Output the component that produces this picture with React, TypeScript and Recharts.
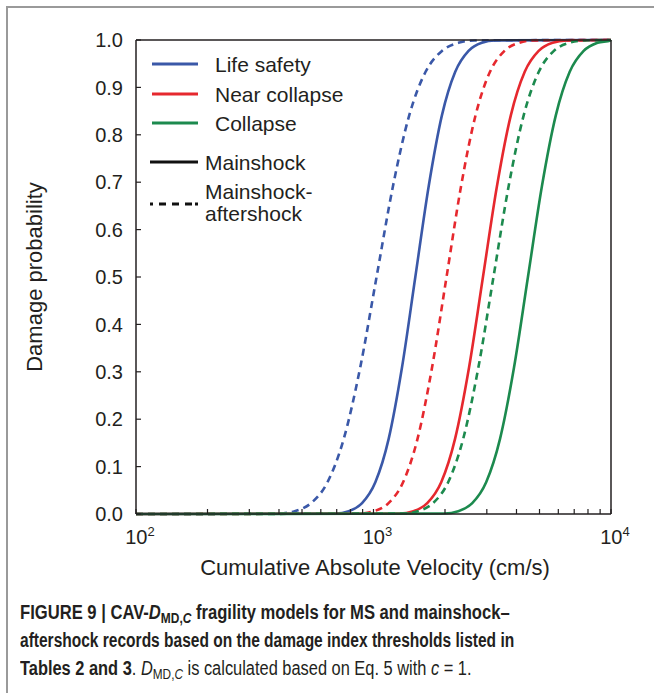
import React from 'react';
import { LineChart, Line, XAxis, YAxis } from 'recharts';

// Probability levels at which each fragility curve was read
const probLevels = [0, 0.001, 0.006, 0.023, 0.067, 0.159, 0.309, 0.5, 0.691, 0.841, 0.933, 0.977, 0.994, 0.999, 1];

// CAV (cm/s) reached by each curve at the probability levels above
const lsMainshockAftershock = [100, 398, 466, 546, 640, 750, 879, 1030, 1207, 1414, 1657, 1942, 2275, 2666, 10000];
const lsMainshock = [100, 692, 787, 895, 1018, 1159, 1318, 1500, 1707, 1941, 2209, 2513, 2859, 3253, 10000];
const ncMainshockAftershock = [100, 874, 1005, 1157, 1332, 1533, 1764, 2030, 2336, 2689, 3094, 3561, 4099, 4717, 10000];
const ncMainshock = [100, 1286, 1472, 1684, 1928, 2206, 2525, 2890, 3308, 3786, 4333, 4959, 5676, 6497, 10000];
const colMainshockAftershock = [100, 1329, 1538, 1781, 2062, 2387, 2764, 3200, 3705, 4289, 4966, 5750, 6657, 7707, 10000];
const colMainshock = [100, 1989, 2276, 2605, 2981, 3412, 3905, 4470, 5116, 5856, 6702, 7671, 8779, 9950, 10000];

const xTicks = [100, 200, 300, 400, 500, 600, 700, 800, 900, 1000, 2000, 3000, 4000, 5000, 6000, 7000, 8000, 9000, 10000];
const yTicks = [0, 0.1, 0.2, 0.3, 0.4, 0.5, 0.6, 0.7, 0.8, 0.9, 1.0];

const BLUE = '#3a58a8';
const RED = '#e6282e';
const GREEN = '#1c8a4e';
const INK = '#231f20';
const FONT = '"Liberation Sans", Arial, Helvetica, sans-serif';

const toPoints = (cav: number[]) => cav.map((c, i) => ({ cav: c, p: probLevels[i] }));

const series = [
  { key: 'ls-msas', data: toPoints(lsMainshockAftershock), color: BLUE, dashed: true },
  { key: 'ls-ms', data: toPoints(lsMainshock), color: BLUE, dashed: false },
  { key: 'nc-msas', data: toPoints(ncMainshockAftershock), color: RED, dashed: true },
  { key: 'nc-ms', data: toPoints(ncMainshock), color: RED, dashed: false },
  { key: 'c-msas', data: toPoints(colMainshockAftershock), color: GREEN, dashed: true },
  { key: 'c-ms', data: toPoints(colMainshock), color: GREEN, dashed: false },
];

const isDecade = (v: number) => v === 100 || v === 1000 || v === 10000;

const BottomTick = ({ x, y, payload }: any) => {
  const v = payload.value;
  return (
    <g>
      <line x1={x} x2={x} y1={y} y2={y - 5} stroke={INK} strokeWidth={1.2} />
      {isDecade(v) && (
        <text x={x + 4} y={y + 30} textAnchor="middle" fontSize={20} fill={INK} fontFamily={FONT}>
          10
          <tspan fontSize={13} dy={-8}>{Math.round(Math.log10(v))}</tspan>
        </text>
      )}
    </g>
  );
};

const TopTick = ({ x, y }: any) => (
  <line x1={x} x2={x} y1={y} y2={y + 5} stroke={INK} strokeWidth={1.2} />
);

const LeftTick = ({ x, y, payload }: any) => (
  <g>
    <line x1={x} x2={x + 5} y1={y} y2={y} stroke={INK} strokeWidth={1.2} />
    <text x={x - 13} y={y} dy="0.36em" textAnchor="end" fontSize={20} fill={INK} fontFamily={FONT}>
      {payload.value.toFixed(1)}
    </text>
  </g>
);

const RightTick = ({ x, y }: any) => (
  <line x1={x} x2={x - 5} y1={y} y2={y} stroke={INK} strokeWidth={1.2} />
);

const legendItems = [
  { label: 'Life safety', color: BLUE, y: 64 },
  { label: 'Near collapse', color: RED, y: 94 },
  { label: 'Collapse', color: GREEN, y: 123 },
];

function Legend() {
  return (
    <svg width={654} height={240} style={{ position: 'absolute', left: 0, top: 0, pointerEvents: 'none' }}>
      <g fontFamily={FONT} fontSize={21} fill={INK}>
        {legendItems.map((it) => (
          <g key={it.label}>
            <line x1={152} x2={198} y1={it.y} y2={it.y} stroke={it.color} strokeWidth={3} />
            <text x={215} y={it.y} dy="0.36em">{it.label}</text>
          </g>
        ))}
        <line x1={150} x2={198} y1={162} y2={162} stroke="#111" strokeWidth={3} />
        <text x={205} y={162} dy="0.36em">Mainshock</text>
        <line x1={150} x2={198} y1={204} y2={204} stroke="#111" strokeWidth={3} strokeDasharray="3 6 7 6 7 6 7" />
        <text x={205} y={191} dy="0.36em">Mainshock-</text>
        <text x={205} y={213} dy="0.36em">aftershock</text>
      </g>
    </svg>
  );
}

const sub: React.CSSProperties = { fontSize: '0.72em', verticalAlign: '-0.3em', lineHeight: 0 };
const captionLine = (scale: number): React.CSSProperties => ({
  transform: `scaleX(${scale})`,
  transformOrigin: 'left top',
  whiteSpace: 'nowrap',
});

export default function App() {
  return (
    <div style={{ position: 'fixed', left: 0, top: 0, width: 654, height: 693, background: '#fff', overflow: 'hidden' }}>
      {/* grey page frame, left and top edges */}
      <div style={{ position: 'absolute', left: 6, top: 6, width: 2, height: 687, background: '#9a9a9a' }} />
      <div style={{ position: 'absolute', left: 6, top: 6, width: 648, height: 2, background: '#9a9a9a' }} />
      <div style={{ position: 'absolute', left: 0, top: 0 }}>
        <LineChart width={654} height={560} margin={{ top: 39, right: 42, bottom: 45, left: 76 }}>
          <XAxis
            dataKey="cav"
            type="number"
            scale="log"
            domain={[100, 10000]}
            ticks={xTicks}
            interval={0}
            height={1}
            tickSize={0}
            tickMargin={0}
            tickLine={false}
            tick={<BottomTick />}
            axisLine={{ stroke: INK, strokeWidth: 1.5 }}
          />
          <XAxis
            xAxisId="top"
            orientation="top"
            type="number"
            scale="log"
            domain={[100, 10000]}
            ticks={xTicks}
            interval={0}
            height={1}
            tickSize={0}
            tickMargin={0}
            tickLine={false}
            tick={<TopTick />}
            axisLine={{ stroke: INK, strokeWidth: 1.5 }}
          />
          <YAxis
            type="number"
            domain={[0, 1]}
            ticks={yTicks}
            interval={0}
            width={60}
            tickSize={0}
            tickMargin={0}
            tickLine={false}
            tick={<LeftTick />}
            axisLine={{ stroke: INK, strokeWidth: 1.5 }}
          />
          <YAxis
            yAxisId="right"
            orientation="right"
            type="number"
            domain={[0, 1]}
            ticks={yTicks}
            interval={0}
            width={1}
            tickSize={0}
            tickMargin={0}
            tickLine={false}
            tick={<RightTick />}
            axisLine={{ stroke: INK, strokeWidth: 1.5 }}
          />
          {series.map((s) => (
            <Line
              key={s.key}
              data={s.data}
              dataKey="p"
              type="monotone"
              stroke={s.color}
              strokeWidth={2.6}
              strokeDasharray={s.dashed ? '7 5' : undefined}
              dot={false}
              activeDot={false}
              isAnimationActive={false}
            />
          ))}
        </LineChart>
      </div>
      <Legend />
      <div
        style={{
          position: 'absolute',
          left: 35,
          top: 277,
          transform: 'translate(-50%, -50%) rotate(-90deg)',
          lineHeight: '26px',
          fontFamily: FONT,
          fontSize: 22,
          color: INK,
          whiteSpace: 'nowrap',
        }}
      >
        Damage probability
      </div>
      <div
        style={{
          position: 'absolute',
          left: 0,
          width: 750,
          top: 568 - 13,
          lineHeight: '26px',
          textAlign: 'center',
          fontFamily: FONT,
          fontSize: 22,
          color: INK,
          whiteSpace: 'nowrap',
        }}
      >
        Cumulative Absolute Velocity (cm/s)
      </div>
      <div
        style={{
          position: 'absolute',
          left: 20,
          top: 598,
          fontFamily: FONT,
          fontSize: 20,
          lineHeight: '28px',
          color: INK,
        }}
      >
        <div style={{ ...captionLine(0.83), fontWeight: 700 }}>
          FIGURE 9 | CAV-<i>D</i>
          <span style={sub}>
            MD,<i>C</i>
          </span>{' '}
          fragility models for MS and mainshock–
        </div>
        <div style={{ ...captionLine(0.776), fontWeight: 700 }}>
          aftershock records based on the damage index thresholds listed in
        </div>
        <div style={captionLine(0.82)}>
          <b>Tables 2 and 3</b>. <i>D</i>
          <span style={sub}>
            MD,<i>C</i>
          </span>{' '}
          is calculated based on Eq. 5 with <i>c</i> = 1.
        </div>
      </div>
    </div>
  );
}
